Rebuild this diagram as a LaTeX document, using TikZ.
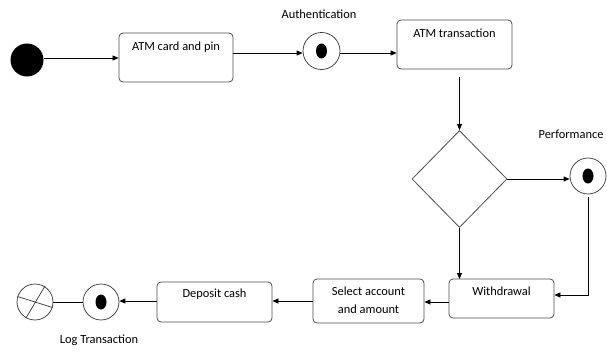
\documentclass[tikz,border=0pt]{standalone}
\usepackage{fontspec}
\setmainfont{Carlito}
\usetikzlibrary{arrows.meta,shapes.geometric}
\begin{document}
\begin{tikzpicture}[x=1pt,y=-1pt,
  font=\fontsize{12.4}{16}\selectfont,
  actbox/.style={draw=black!70,rounded corners=4pt,line width=0.8pt},
  endring/.style={draw=black!80,circle,line width=0.7pt,minimum size=37pt,inner sep=0pt},
  flow/.style={draw=black,line width=0.75pt,-{Triangle[length=6pt,width=5pt]}},
  plain/.style={draw=black,line width=0.75pt}]
\useasboundingbox (0,0) rectangle (607,353);

% initial state
\fill (27,60) circle (16.5);
\coordinate (start) at (43.5,58);

% activity boxes
\node[actbox,minimum width=114pt,minimum height=49pt] (card) at (176,57.5) {};
\node[anchor=north] at (card.north) [yshift=-6pt] {ATM card and pin};
\node[actbox,minimum width=115pt,minimum height=49pt] (trans) at (454.5,44.5) {};
\node[anchor=north] at (trans.north) [yshift=-6pt] {ATM transaction};
\node[actbox,minimum width=105pt,minimum height=39pt] (withd) at (501.5,298.5) {};
\node[anchor=north] at (withd.north) [yshift=-5pt] {Withdrawal};
\node[actbox,minimum width=111pt,minimum height=44pt] (select) at (368.5,301) {};
\node[align=center,anchor=north,font=\fontsize{12.4}{18}\selectfont] at (select.north) [yshift=-5pt] {Select account\\and amount};
\node[actbox,minimum width=115pt,minimum height=40pt] (deposit) at (214.5,302) {};
\node[anchor=north] at (deposit.north) [yshift=-4pt] {Deposit cash};

% decision
\node[draw=black!70,diamond,line width=0.8pt,minimum width=95pt,minimum height=97pt,inner sep=0pt] (dec) at (459.5,179) {};

% event states with inner dots
\node[endring] (auth) at (321.5,51) {};
\fill (auth.center) ellipse (5.5 and 7.5);
\node at (319,14) {Authentication};
\node[endring,minimum size=36pt] (perf) at (588,176) {};
\fill (perf.center) ellipse (5.5 and 7.5);
\node at (571,134) {Performance};
\node[endring,minimum size=36pt] (logt) at (101,302) {};
\fill (logt.center) ellipse (5.5 and 7.5);
\node at (99,340) {Log Transaction};

% flow final state
\node[endring,minimum size=36pt] (final) at (35,302) {};
\draw[black!80,line width=0.7pt] (45,286) -- (26,318);
\draw[black!80,line width=0.7pt] (17.5,296.5) -- (52.5,307.5);

% connectors
\draw[flow] (start) -- (start -| card.west);
\draw[flow] (card.east |- 0,53) -- (auth.west |- 0,53);
\draw[flow] (auth.east |- 0,53) -- (trans.west |- 0,53);
\draw[flow] (459.5,77) -- (dec.north);
\draw[flow] (dec.east) -- (perf.west |- dec.east);
\draw[flow] (dec.south) -- (459.5,279);
\draw[flow] (perf.south) ++(0,3) -- (588,295) -- (withd.east |- 0,295);
\draw[flow] (withd.west |- 0,302) -- (select.east |- 0,302);
\draw[flow] (select.west |- 0,301) -- (deposit.east |- 0,301);
\draw[flow] (deposit.west |- 0,301) -- (logt.east |- 0,301);
\draw[plain] (logt.west) -- (final.east);
\end{tikzpicture}
\end{document}
